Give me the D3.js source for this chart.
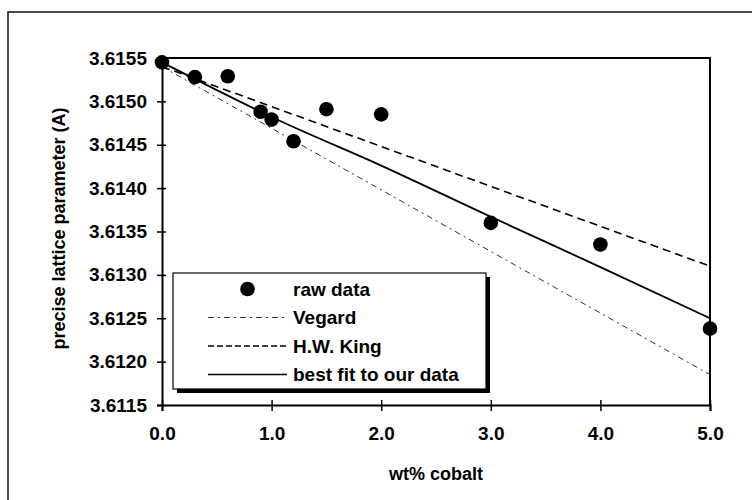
<!DOCTYPE html>
<html>
<head>
<meta charset="utf-8">
<script src="https://cdn.jsdelivr.net/npm/d3@7"></script>
<style>
  body { margin: 0; background: #fff; }
  svg text { font-family: "Liberation Sans", Arial, sans-serif; font-weight: bold; fill: #000; }
</style>
</head>
<body>
<div id="chart_div"></div>
<script>
// tick labels
var xTicks = [0, 1, 2, 3, 4, 5];
var yTicks = [3.6115, 3.6120, 3.6125, 3.6130, 3.6135, 3.6140, 3.6145, 3.6150, 3.6155];

// raw data (wt% cobalt, lattice parameter)
var rawX = [0, 0.3, 0.6, 0.9, 1.0, 1.2, 1.5, 2.0, 3.0, 4.0, 5.0];
var rawY = [3.61545, 3.61528, 3.61529, 3.61488, 3.61479, 3.61454, 3.61491, 3.61485, 3.61360, 3.61335, 3.61238];

// Vegard line
var vegardX = [0, 5];
var vegardY = [3.6154, 3.61185];

// H.W. King line
var kingX = [0, 5];
var kingY = [3.6154, 3.6131];

// best fit to our data
var fitX = [0, 0.5, 1, 2, 3, 4, 5];
var fitY = [3.61545, 3.61513, 3.61482, 3.61426, 3.61367, 3.61309, 3.6125];

var legendLabels = ['raw data', 'Vegard', 'H.W. King', 'best fit to our data'];

function draw_chart(){
  var W = 752, H = 500;
  var margin = {top: 58, right: 42, bottom: 95, left: 162},
      width = W - margin.left - margin.right,
      height = H - margin.top - margin.bottom;

  var svg = d3.select('#chart_div').append('svg')
    .attr('width', W)
    .attr('height', H);

  // outer frame
  svg.append('rect')
    .attr('x', 8).attr('y', 12)
    .attr('width', 760).attr('height', 520)
    .attr('fill', 'none')
    .attr('stroke', '#111')
    .attr('stroke-width', 1.5);

  var g = svg.append('g')
    .attr('transform', 'translate(' + margin.left + ',' + margin.top + ')');

  var xScale = d3.scaleLinear().domain([0, 5]).range([0, width]);
  var yScale = d3.scaleLinear().domain([3.6115, 3.6155]).range([height, 0]);

  // plot frame (top + right)
  g.append('path')
    .attr('d', 'M0,0H' + width + 'V' + height)
    .attr('fill', 'none')
    .attr('stroke', '#000')
    .attr('stroke-width', 2);

  // axes
  var yAxis = g.append('g')
    .attr('class', 'yaxis')
    .call(d3.axisLeft(yScale).tickValues(yTicks).tickFormat(d3.format('.4f')).tickSize(5).tickPadding(10));

  var xAxis = g.append('g')
    .attr('class', 'xaxis')
    .attr('transform', 'translate(0,' + height + ')')
    .call(d3.axisBottom(xScale).tickValues(xTicks).tickFormat(d3.format('.1f')).tickSize(6).tickPadding(16));

  // cross ticks like the original
  yAxis.selectAll('.tick line').attr('x1', 4).attr('x2', -5).attr('stroke-width', 1.5);
  xAxis.selectAll('.tick line').attr('y1', -5).attr('y2', 6).attr('stroke-width', 1.5);

  g.selectAll('path.domain')
    .attr('stroke', '#000')
    .attr('stroke-width', 2);

  yAxis.selectAll('text').style('font-size', '19px');
  xAxis.selectAll('text').style('font-size', '19px');

  // lines
  var line = d3.line()
    .x(function(d){ return xScale(d[0]); })
    .y(function(d){ return yScale(d[1]); });

  g.append('path')
    .datum(d3.zip(vegardX, vegardY))
    .attr('d', line)
    .attr('fill', 'none')
    .attr('stroke', '#333')
    .attr('stroke-width', 1)
    .attr('stroke-dasharray', '6 4 2 4');

  g.append('path')
    .datum(d3.zip(kingX, kingY))
    .attr('d', line)
    .attr('fill', 'none')
    .attr('stroke', '#000')
    .attr('stroke-width', 1.6)
    .attr('stroke-dasharray', '8 5');

  g.append('path')
    .datum(d3.zip(fitX, fitY))
    .attr('d', line.curve(d3.curveMonotoneX))
    .attr('fill', 'none')
    .attr('stroke', '#000')
    .attr('stroke-width', 1.8);

  // raw data points
  g.selectAll('circle.point')
    .data(d3.zip(rawX, rawY))
    .enter().append('circle')
    .attr('class', 'point')
    .attr('cx', function(d){ return xScale(d[0]); })
    .attr('cy', function(d){ return yScale(d[1]); })
    .attr('r', 7.3)
    .attr('fill', '#000');

  // axis titles
  g.append('text')
    .attr('text-anchor', 'middle')
    .attr('x', width / 2)
    .attr('y', height + 75)
    .style('font-size', '18px')
    .text('wt% cobalt');

  g.append('text')
    .attr('text-anchor', 'middle')
    .attr('transform', 'translate(' + (-97) + ',' + (height / 2 - 3) + ') rotate(-90)')
    .style('font-size', '18px')
    .text('precise lattice parameter (A)');

  // legend
  var lx = 173 - margin.left, ly = 273 - margin.top, lw = 313, lh = 116;
  g.append('rect')
    .attr('x', lx + 4).attr('y', ly + 4)
    .attr('width', lw).attr('height', lh)
    .attr('fill', '#000');
  g.append('rect')
    .attr('x', lx).attr('y', ly)
    .attr('width', lw).attr('height', lh)
    .attr('fill', '#fff')
    .attr('stroke', '#000')
    .attr('stroke-width', 1.2);

  var rowY = function(i){ return ly + 16 + i * 28.5; };
  var sx0 = lx + 35, sx1 = lx + 114;

  g.append('circle')
    .attr('cx', (sx0 + sx1) / 2).attr('cy', rowY(0))
    .attr('r', 7.3).attr('fill', '#000');

  g.append('line')
    .attr('x1', sx0).attr('x2', sx1).attr('y1', rowY(1)).attr('y2', rowY(1))
    .attr('stroke', '#333').attr('stroke-width', 1).attr('stroke-dasharray', '6 4 2 4');
  g.append('line')
    .attr('x1', sx0).attr('x2', sx1).attr('y1', rowY(2)).attr('y2', rowY(2))
    .attr('stroke', '#000').attr('stroke-width', 1.4).attr('stroke-dasharray', '6 3');
  g.append('line')
    .attr('x1', sx0).attr('x2', sx1).attr('y1', rowY(3)).attr('y2', rowY(3))
    .attr('stroke', '#000').attr('stroke-width', 1.6);

  g.selectAll('text.legend')
    .data(legendLabels)
    .enter().append('text')
    .attr('class', 'legend')
    .attr('x', sx1 + 6)
    .attr('y', function(d, i){ return rowY(i); })
    .attr('dy', '0.35em')
    .style('font-size', '19px')
    .text(function(d){ return d; });
}

draw_chart();
</script>
</body>
</html>
